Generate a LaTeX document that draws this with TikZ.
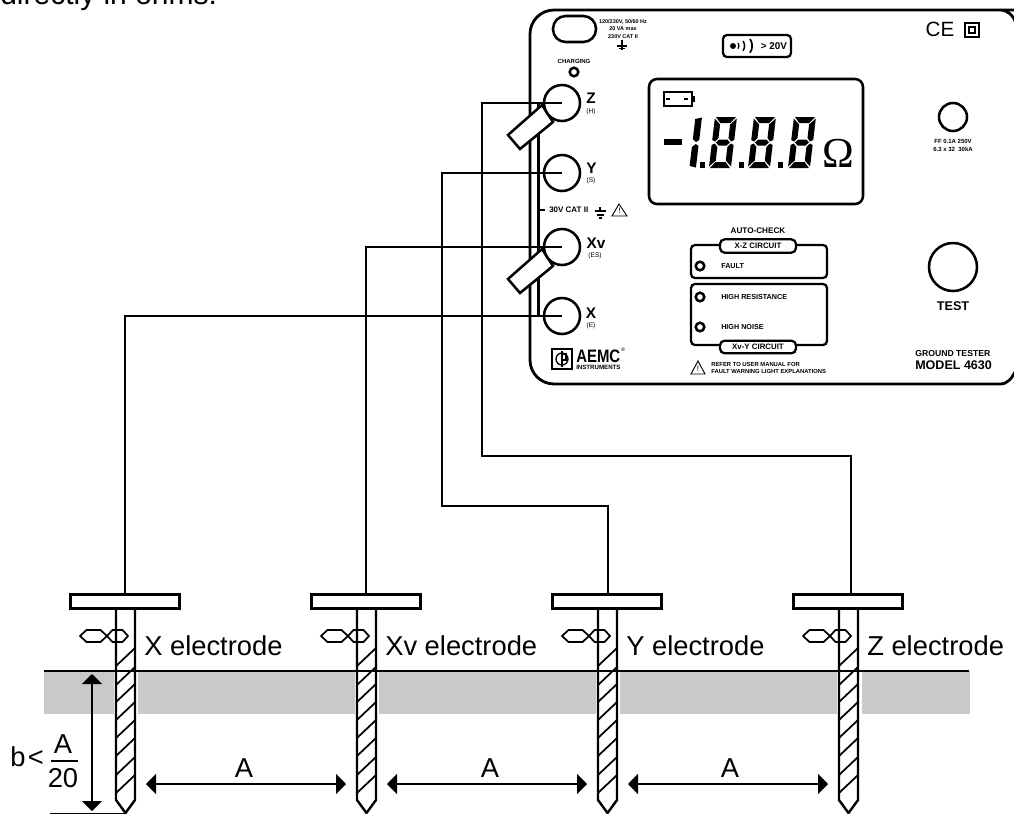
\documentclass[tikz,border=0pt]{standalone}
\usepackage{fontspec}
\setmainfont{Liberation Sans}
\newfontfamily\omegafont{Liberation Serif}
\usepackage{tikz}
\usetikzlibrary{arrows.meta}

\tikzset{
    wire/.style={line width=1.9pt},
    rodline/.style={line width=1.8pt},
    panel/.style={line width=2.1pt},
    thin box/.style={line width=1.7pt,rounded corners=3pt},
    jack/.style={circle,draw,fill=white,line width=1.9pt,minimum size=27pt,inner sep=0pt},
    led/.style={circle,draw,line width=1.9pt,minimum size=6.4pt,inner sep=0pt},
    strap/.style={draw,fill=white,line width=1.9pt},
    plate/.style={rectangle,draw,fill=white,line width=1.8pt,minimum width=82pt,minimum height=10.6pt,inner sep=0pt},
    big/.style={inner sep=0pt,anchor=base west,font=\fontsize{20.5}{22}\selectfont},
    tiny/.style={inner sep=0pt,font=\fontsize{4.1}{5}\selectfont\bfseries},
    small/.style={inner sep=0pt,font=\fontsize{4.5}{5}\selectfont\bfseries},
    ledtext/.style={inner sep=0pt,anchor=west,font=\fontsize{5.4}{6}\selectfont\bfseries},
    circuit/.style={draw,fill=white,line width=1.7pt,rounded corners=3.5pt,minimum width=57pt,inner sep=0pt,font=\fontsize{5.9}{6}\selectfont\bfseries},
    jacktext/.style={inner sep=0pt,font=\fontsize{11.5}{12}\selectfont\bfseries},
    jacksub/.style={inner sep=0pt,font=\fontsize{5}{6}\selectfont},
    dimarrow/.style={line width=1.5pt,{Triangle[length=7.5pt,width=15pt]}-{Triangle[length=7.5pt,width=15pt]}},
    pics/rod/.style={code={
        \draw[rodline] (-9.5,0) -- (-9.5,192) -- (0,205) -- (9.5,192) -- (9.5,0);
        \draw[rodline,line width=1.3pt] (-9.5,58) -- (9.5,40);
        \draw[rodline,line width=1.3pt] (-9.5,77) -- (9.5,59);
        \draw[rodline,line width=1.3pt] (-9.5,94) -- (9.5,76);
        \draw[rodline,line width=1.3pt] (-9.5,112) -- (9.5,94);
        \draw[rodline,line width=1.3pt] (-9.5,130) -- (9.5,112);
        \draw[rodline,line width=1.3pt] (-9.5,148) -- (9.5,130);
        \draw[rodline,line width=1.3pt] (-9.5,167) -- (9.5,149);
        \draw[rodline,line width=1.3pt] (-9.5,185) -- (9.5,167);
        \draw[rodline,line width=1.3pt] (-45.5,28) -- (-39,22) -- (-25,22) -- (-18.5,28) -- (-25,34) -- (-39,34) -- cycle;
        \draw[rodline,line width=1.3pt] (-18.5,28) -- (-13,22) -- (-3,22) -- (2.5,28) -- (-3,34) -- (-13,34) -- cycle;
    }},
    pics/segone/.style={code={
        \fill (15.5,2) -- (22,0.5) -- (22,23) -- (19,25) -- (15.5,22) -- cycle;
        \fill (15.5,30) -- (19,27) -- (22,29) -- (22,50.5) -- (15.5,49) -- cycle;
    }},
    pics/segeight/.style={code={
        \fill (1,0) -- (21,0) -- (16,6) -- (6,6) -- cycle;
        \fill (4,25.5) -- (7,22.5) -- (15,22.5) -- (18,25.5) -- (15,28.5) -- (7,28.5) -- cycle;
        \fill (1,51) -- (21,51) -- (16,45) -- (6,45) -- cycle;
        \fill (0,1.5) -- (6,7.5) -- (6,21) -- (3,24.5) -- (0,23) -- cycle;
        \fill (0,28) -- (3,26.5) -- (6,30) -- (6,43.5) -- (0,49.5) -- cycle;
        \fill (22,1.5) -- (16,7.5) -- (16,21) -- (19,24.5) -- (22,23) -- cycle;
        \fill (22,28) -- (19,26.5) -- (16,30) -- (16,43.5) -- (22,49.5) -- cycle;
    }},
}
\definecolor{soil}{HTML}{C8C9CB}

\begin{document}
\begin{tikzpicture}[x=0.75pt,y=-0.75pt]
    \clip (0,0) rectangle (1014,814);

    \node[big,font=\fontsize{22.5}{24}\selectfont] (head) at (0,4) {directly in ohms.};

    % soil
    \fill[soil] (44,671) rectangle (114,714);
    \fill[soil] (138,671) rectangle (355,714);
    \fill[soil] (379,671) rectangle (596,714);
    \fill[soil] (620,671) rectangle (837,714);
    \fill[soil] (862,671) rectangle (970,714);
    \draw[line width=1.7pt] (44,671) -- (969,671);

    % electrodes
    \pic at (125.5,608) {rod};
    \pic at (366.5,608) {rod};
    \pic at (607.5,608) {rod};
    \pic at (848.5,608) {rod};

    \node[plate] (xp)  at (125,601.5) {};
    \node[plate] (xvp) at (366,601.5) {};
    \node[plate] (yp)  at (607,601.5) {};
    \node[plate] (zp)  at (848,601.5) {};

    \node[big] (xlab)  at (144,655) {X electrode};
    \node[big] (xvlab) at (385,655) {Xv electrode};
    \node[big] (ylab)  at (626,655) {Y electrode};
    \node[big] (zlab)  at (867,655) {Z electrode};

    % dimensions
    \coordinate (btop) at (92,674);
    \coordinate (bbot) at (92,811);
    \draw[dimarrow] (btop) -- (bbot);
    \draw[line width=1.1pt] (50,813.5) -- (126,813.5);

    \coordinate (a1l) at (146,784);
    \coordinate (a1r) at (346,784);
    \coordinate (a2l) at (387,784);
    \coordinate (a2r) at (587,784);
    \coordinate (a3l) at (628,784);
    \coordinate (a3r) at (828,784);
    \draw[dimarrow] (a1l) -- (a1r);
    \draw[dimarrow] (a2l) -- (a2r);
    \draw[dimarrow] (a3l) -- (a3r);

    \node[big,anchor=base] (a1) at (244,777) {A};
    \node[big,anchor=base] (a2) at (490,777) {A};
    \node[big,anchor=base] (a3) at (730,777) {A};

    \node[big] (blab) at (10,766) {b};
    \node[big] (bless) at (27.5,766) {<};
    \node[big,anchor=base] (fracn) at (63,753) {A};
    \node[big,anchor=base] (fracd) at (63,787) {20};
    \draw[line width=1.3pt] (51,761) -- (78,761);

    % tester panel
    \draw[panel] (1016,10) -- (1000,10) .. controls (1008,10) and (1014,16) .. (1016,24);
    \draw[panel,rounded corners=18pt] (1000,10) -- (530,10) -- (530,384) -- (1000,384);
    \draw[panel] (1000,384) .. controls (1008,384) and (1012,378) .. (1016,370);

    \draw[wire] (538.5,103) -- (538.5,316);
    \draw[wire] (538.5,210) -- (545,210);

    \draw[strap] (508,135) -- (520,149) -- (553,122) -- (542,105) -- cycle;
    \draw[strap] (508,279) -- (520,293) -- (553,266) -- (542,249) -- cycle;

    \node[jack] (zt)  at (562,103) {};
    \node[jack] (yt)  at (562,173) {};
    \node[jack] (xvt) at (562,247) {};
    \node[jack] (xt)  at (562,316) {};

    \coordinate (zb) at (482,456);
    \coordinate (zw) at (851,594);
    \coordinate (yb) at (442,506);
    \coordinate (yw) at (608,594);
    \draw[wire] (zt.center) -| (zb) -| (zw);
    \draw[wire] (yt.center) -| (yb) -| (yw);
    \draw[wire] (xvt.center) -| (xvp.north);
    \draw[wire] (xt.center) -| (xp.north);

    \node[jacktext] (zl)  at (591,98) {Z};
    \node[jacksub]  (zs)  at (591,112) {(H)};
    \node[jacktext] (yl)  at (591.5,168) {Y};
    \node[jacksub]  (ys)  at (591,181) {(S)};
    \node[jacktext] (xvl) at (596,243) {Xv};
    \node[jacksub]  (xvs) at (595,256) {(ES)};
    \node[jacktext] (xl)  at (591,313) {X};
    \node[jacksub]  (xs)  at (591,326) {(E)};

    % top row
    \draw[line width=1.9pt,rounded corners=9.5pt] (553,16) rectangle (596,42);
    \node[tiny] (mains1) at (623,22) {120/230V, 50/60 Hz};
    \node[tiny] (mains2) at (623,29) {20 VA max};
    \node[tiny] (mains3) at (623,37) {230V CAT II};
    \draw[line width=1.1pt] (622,40) -- (622,50);
    \draw[line width=1.6pt] (617,46) -- (627,46);
    \draw[line width=1pt] (619,48.5) -- (625,48.5);

    \node[small] (chg) at (574,61) {CHARGING};
    \node[led] (chgled) at (574,72) {};

    \draw[thin box] (723,35) rectangle (791,57);
    \fill (733,46) circle (3);
    \draw[line width=0.9pt] (738,43) arc (-35:35:5) ;
    \draw[line width=1.1pt] (743,41) arc (-35:35:8.5);
    \draw[line width=1.3pt] (750,39) arc (-35:35:12);
    \node[small,font=\fontsize{7.4}{8}\selectfont\bfseries] (beep) at (774,46) {> 20V};

    \node[inner sep=0pt,font=\fontsize{15.5}{16}\selectfont] (ce) at (940,29.5) {CE};
    \draw[line width=1.5pt] (965,23) rectangle (979,37);
    \draw[line width=0.9pt] (969,27) rectangle (975,33);

    % display
    \draw[line width=1.9pt,rounded corners=6pt] (649,79) rectangle (863,204);
    \draw[line width=1.5pt] (664,92) rectangle (692,106);
    \fill (692,96) rectangle (695,102);
    \fill (666,98) rectangle (670,100);
    \fill (684,98) rectangle (688,100);
    \fill (664,139) rectangle (682,145);
    \pic[xslant=0.12] at (680,117) {segone};
    \pic[xslant=0.12] at (715,117) {segeight};
    \pic[xslant=0.12] at (754,117) {segeight};
    \pic[xslant=0.12] at (794,117) {segeight};
    \fill (700,162) rectangle (705,168);
    \fill (739,162) rectangle (744,168);
    \fill (778,162) rectangle (783,168);
    \node[inner sep=0pt,anchor=base,font=\fontsize{32}{34}\selectfont\omegafont] (ohm) at (838,167) {Ω};

    % fuse
    \draw[line width=1.9pt] (953,117) circle (14);
    \node[small] (fuse1) at (953,141) {FF 0.1A 250V};
    \node[small] (fuse2) at (953,149) {6.3 x 32\ \ 30kA};

    % line rating
    \node[inner sep=0pt,anchor=west,font=\fontsize{6}{7}\selectfont\bfseries] (cat) at (549,210) {30V CAT II};
    \draw[line width=1pt] (600,207) -- (600,211);
    \draw[line width=1.2pt] (595,211) -- (606,211);
    \draw[line width=1.2pt] (597,215) -- (604,215);
    \draw[line width=1.2pt] (599,218) -- (602,218);
    \draw[line width=0.7pt] (619,204) -- (627,216) -- (612,216) -- cycle;
    \node[inner sep=0pt,font=\fontsize{6}{7}\selectfont] (warn1) at (619.5,211) {!};

    % auto-check boxes
    \node[inner sep=0pt,font=\fontsize{6.1}{7}\selectfont\bfseries] (auto) at (758,231) {AUTO-CHECK};
    \draw[thin box] (691,245) rectangle (827,278);
    \draw[thin box] (691,284) rectangle (827,345);
    \node[circuit,minimum height=10pt] (xzc) at (758,246) {X-Z CIRCUIT};
    \node[circuit,minimum height=9.5pt] (xvyc) at (758,347) {Xv-Y CIRCUIT};

    \node[led] (led1) at (700,266) {};
    \node[led] (led2) at (700,297) {};
    \node[led] (led3) at (700,327) {};
    \node[ledtext] (fault) at (721,266) {FAULT};
    \node[ledtext] (hires) at (721,297) {HIGH RESISTANCE};
    \node[ledtext] (hinoise) at (721,327) {HIGH NOISE};

    \draw[line width=0.7pt] (698,361) -- (705,374) -- (691,374) -- cycle;
    \node[inner sep=0pt,font=\fontsize{6}{7}\selectfont] (warn2) at (698,369) {!};
    \node[inner sep=0pt,anchor=west,font=\fontsize{4.4}{5}\selectfont\bfseries] (ref1) at (711,364) {REFER TO USER MANUAL FOR};
    \node[inner sep=0pt,anchor=west,font=\fontsize{4.4}{5}\selectfont\bfseries] (ref2) at (711,371) {FAULT WARNING LIGHT EXPLANATIONS};

    % test button
    \draw[line width=1.9pt] (953,267) circle (24);
    \node[inner sep=0pt,font=\fontsize{9.5}{10}\selectfont\bfseries] (test) at (953,306) {TEST};
    \node[inner sep=0pt,anchor=west,font=\fontsize{6.5}{7}\selectfont\bfseries] (gt) at (915,354) {GROUND TESTER};
    \node[inner sep=0pt,anchor=west,font=\fontsize{9.4}{10}\selectfont\bfseries] (model) at (915,365) {MODEL 4630};

    % logo
    \draw[line width=1.3pt] (552,349) rectangle (572,369);
    \draw[line width=1pt] (562,359) circle (6);
    \draw[line width=1pt] (562,351) -- (562,367);
    \draw[line width=1pt] (562,354) -- (566,354) -- (566,360) -- (562,360);
    \node[inner sep=0pt,anchor=west,font=\fontsize{13.5}{14}\selectfont\bfseries] (aemc) at (576,356.5) {\scalebox{0.83}[1]{AEMC}};
    \node[inner sep=0pt,font=\fontsize{4}{5}\selectfont] (reg) at (623,350) {\textregistered};
    \node[inner sep=0pt,anchor=west,font=\fontsize{4.6}{5}\selectfont\bfseries] (inst) at (576,367.5) {INSTRUMENTS};
\end{tikzpicture}
\end{document}
